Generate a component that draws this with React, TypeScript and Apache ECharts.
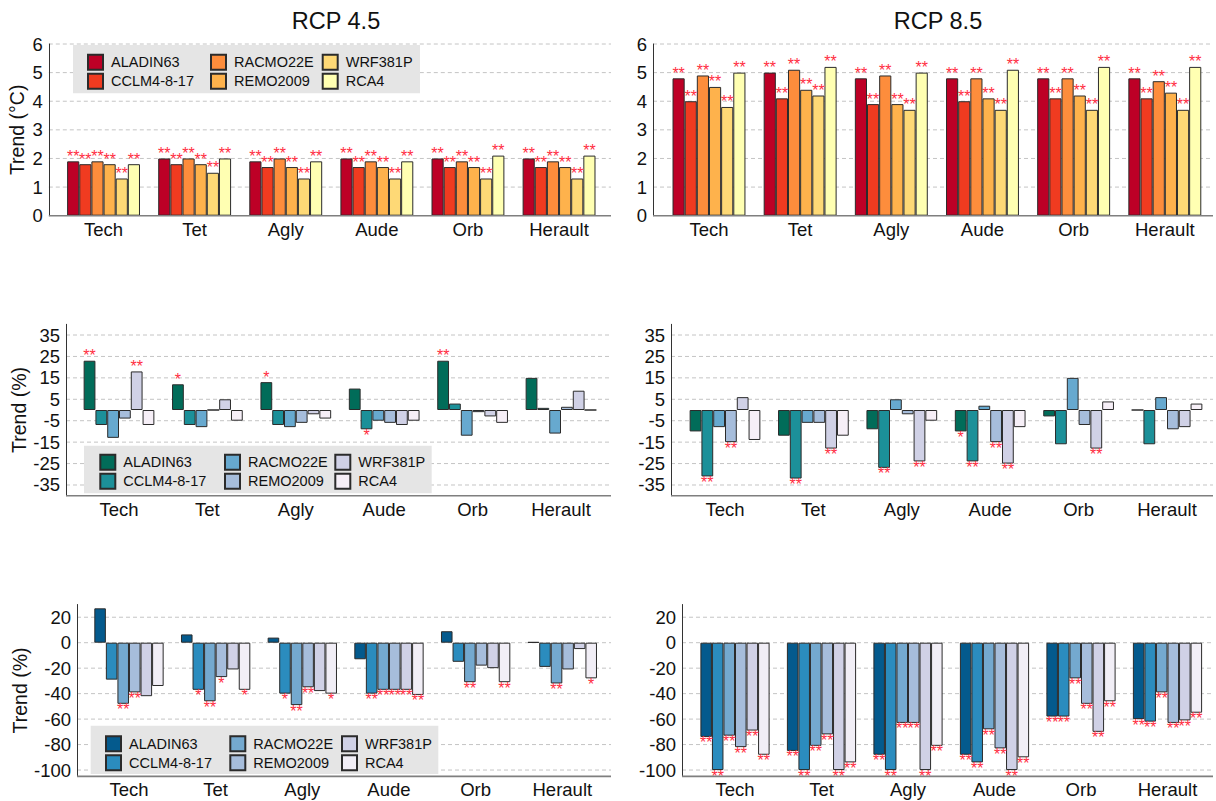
import React, { useEffect, useRef } from "react";
import * as echarts from "echarts";

const CATEGORIES = ["Tech", "Tet", "Agly", "Aude", "Orb", "Herault"];
const MODELS = ["ALADIN63", "CCLM4-8-17", "RACMO22E", "REMO2009", "WRF381P", "RCA4"];
const SCENARIOS = ["RCP 4.5", "RCP 8.5"];

// values are [model][category]
const TEMP_RCP45 = [
  [1.9, 2.0, 1.9, 2.0, 2.0, 2.0],
  [1.8, 1.8, 1.7, 1.7, 1.7, 1.7],
  [1.9, 2.0, 2.0, 1.9, 1.9, 1.9],
  [1.8, 1.8, 1.7, 1.7, 1.7, 1.7],
  [1.3, 1.5, 1.3, 1.3, 1.3, 1.3],
  [1.8, 2.0, 1.9, 1.9, 2.1, 2.1],
];
const TEMP_RCP85 = [
  [4.8, 5.0, 4.8, 4.8, 4.8, 4.8],
  [4.0, 4.1, 3.9, 4.0, 4.1, 4.1],
  [4.9, 5.1, 4.9, 4.8, 4.8, 4.7],
  [4.5, 4.4, 3.9, 4.1, 4.2, 4.3],
  [3.8, 4.2, 3.7, 3.7, 3.7, 3.7],
  [5.0, 5.2, 5.0, 5.1, 5.2, 5.2],
];
const PREC_RCP45 = [
  [23, 12, 13, 10, 23, 15],
  [-7, -7, -7, -9, 3, 1],
  [-13, -8, -8, -5, -12, -11],
  [-4, 0, -6, -6, -1, 1.5],
  [18, 5, -2, -7, -3, 9],
  [-7, -5, -4, -5, -6, 0],
];
const PREC_RCP85 = [
  [-10, -12, -9, -10, -3, 0],
  [-31, -32, -27, -24, -16, -16],
  [-8, -6, 5, 2, 15, 6],
  [-15, -6, -2, -15, -7, -9],
  [6, -18, -24, -25, -18, -8],
  [-14, -12, -5, -8, 4, 3],
];
const FLOW_RCP45 = [
  [27, 6.5, 4, -13, 9, 0.5],
  [-29, -37, -40, -40, -15, -19],
  [-48, -46, -49, -37, -31, -32],
  [-39, -27, -35, -37, -18, -21],
  [-42, -21, -38, -37, -20, -5],
  [-34, -37, -40, -41, -31, -28],
];
const FLOW_RCP85 = [
  [-74, -85, -88, -88, -58, -60],
  [-100, -100, -100, -94, -58, -62],
  [-73, -81, -63, -68, -28, -39],
  [-82, -72, -63, -83, -48, -63],
  [-69, -100, -100, -100, -70, -61],
  [-88, -94, -81, -90, -46, -55],
];

// significance markers [model][category]
const SIG_TEMP_RCP45 = [
  ["**", "**", "**", "**", "**", "**"],
  ["**", "**", "**", "**", "**", "**"],
  ["**", "**", "**", "**", "**", "**"],
  ["**", "**", "**", "**", "**", "**"],
  ["**", "**", "**", "**", "**", "**"],
  ["**", "**", "**", "**", "**", "**"],
];
const SIG_TEMP_RCP85 = [
  ["**", "**", "**", "**", "**", "**"],
  ["**", "**", "**", "**", "**", "**"],
  ["**", "**", "**", "**", "**", "**"],
  ["**", "**", "**", "**", "**", "**"],
  ["**", "**", "**", "**", "**", "**"],
  ["**", "**", "**", "**", "**", "**"],
];
const SIG_PREC_RCP45 = [
  ["**", "*", "*", "", "**", ""],
  ["", "", "", "*", "", ""],
  ["", "", "", "", "", ""],
  ["", "", "", "", "", ""],
  ["**", "", "", "", "", ""],
  ["", "", "", "", "", ""],
];
const SIG_PREC_RCP85 = [
  ["", "", "", "*", "", ""],
  ["**", "**", "**", "**", "", ""],
  ["", "", "", "", "", ""],
  ["**", "", "", "**", "", ""],
  ["", "**", "**", "**", "**", ""],
  ["", "", "", "", "", ""],
];
const SIG_FLOW_RCP45 = [
  ["", "", "", "", "", ""],
  ["", "*", "*", "**", "", ""],
  ["**", "**", "**", "**", "**", "**"],
  ["**", "*", "**", "**", "", ""],
  ["", "", "", "**", "", ""],
  ["", "*", "*", "**", "**", "*"],
];
const SIG_FLOW_RCP85 = [
  ["**", "**", "**", "**", "**", "**"],
  ["**", "**", "**", "**", "**", "**"],
  ["**", "**", "**", "**", "**", "**"],
  ["**", "**", "**", "**", "**", "**"],
  ["**", "**", "**", "**", "**", "**"],
  ["**", "**", "**", "**", "**", "**"],
];

const TICKS_TEMP = [0, 1, 2, 3, 4, 5, 6];
const TICKS_PREC = [-35, -25, -15, -5, 5, 15, 25, 35];
const TICKS_FLOW = [-100, -80, -60, -40, -20, 0, 20];

const YLORRD = ["#BD0026", "#F03B20", "#FD8D3C", "#FEB24C", "#FED976", "#FFFFB2"];
const PUBUGN = ["#016C59", "#1C9099", "#67A9CF", "#A6BDDB", "#D0D1E6", "#F6EFF7"];
const PUBU = ["#045A8D", "#2B8CBE", "#74A9CF", "#A6BDDB", "#D0D1E6", "#F1EEF6"];

const FONT = "'Liberation Sans', Arial, sans-serif";
const STAR = "#FF2E3F";

const ROWS = [
  { top: 44, height: 171.7, min: 0, max: 6, step: 1, ticks: TICKS_TEMP, grid: TICKS_TEMP.filter((t) => t > 0), name: "Trend (°C)", palette: YLORRD, values: [TEMP_RCP45, TEMP_RCP85], sig: [SIG_TEMP_RCP45, SIG_TEMP_RCP85] },
  { top: 324.3, height: 171.4, min: -40, max: 40, step: 5, ticks: TICKS_PREC, grid: TICKS_PREC, name: "Trend (%)", palette: PUBUGN, values: [PREC_RCP45, PREC_RCP85], sig: [SIG_PREC_RCP45, SIG_PREC_RCP85] },
  { top: 604.5, height: 171.9, min: -105, max: 30, step: 5, ticks: TICKS_FLOW, grid: TICKS_FLOW, name: "Trend (%)", palette: PUBU, values: [FLOW_RCP45, FLOW_RCP85], sig: [SIG_FLOW_RCP45, SIG_FLOW_RCP85] },
];
const COLS = [
  [
    { gridLeft: 58, width: 546.6, axisX: 48.8, right: 611 },
    { gridLeft: 663.4, width: 547, axisX: 653, right: 1213 },
  ],
  [
    { gridLeft: 74.8, width: 530.4, axisX: 66, right: 611 },
    { gridLeft: 680.8, width: 530.4, axisX: 671, right: 1213 },
  ],
  [
    { gridLeft: 85.65, width: 520, axisX: 77, right: 611 },
    { gridLeft: 691.75, width: 519, axisX: 682, right: 1213 },
  ],
];
const LEGENDS = [
  { box: [73, 45, 347, 48.3], keys: [87, 210, 321.7], top: 53.8 },
  { box: [84, 445.7, 347.7, 47.6], keys: [99.3, 224, 334.3], top: 453.8 },
  { box: [90.7, 725.7, 347.6, 48.3], keys: [105, 229.3, 341], top: 735.2 },
];
const TITLE_X = [331, 933];

export default function App() {
  const ref = useRef<HTMLDivElement>(null);
  useEffect(() => {
    if (!ref.current) return;
    const chart = echarts.init(ref.current, null, { renderer: "svg" });
    const grids: any[] = [];
    const xAxes: any[] = [];
    const yAxes: any[] = [];
    const series: any[] = [];
    const legends: any[] = [];
    const panels: any[] = [];

    ROWS.forEach((row, r) => {
      [0, 1].forEach((c) => {
        const lay = COLS[r][c];
        const idx = grids.length;
        panels.push({ r, c, idx, lay, row });
        grids.push({ left: lay.gridLeft, top: row.top, width: lay.width, height: row.height, containLabel: false, outerBoundsMode: "none" });
        xAxes.push({
          type: "category",
          gridIndex: idx,
          data: CATEGORIES,
          axisLine: { show: false },
          axisTick: { show: false },
          axisLabel: { fontSize: 18.5, lineHeight: 19, color: "#111", fontFamily: FONT, margin: 4 },
        });
        yAxes.push({
          type: "value",
          gridIndex: idx,
          min: row.min,
          max: row.max,
          interval: row.step,
          offset: lay.gridLeft - lay.axisX,
          name: c === 0 ? row.name : "",
          nameLocation: "middle",
          nameGap: 22,
          nameTextStyle: { fontSize: 19.5, color: "#111", fontFamily: FONT },
          axisLine: { show: true, lineStyle: { color: "#333", width: 1 } },
          axisTick: { show: false },
          splitLine: { show: false },
          axisLabel: {
            fontSize: 18.5,
            color: "#111",
            fontFamily: FONT,
            margin: 6,
            formatter: (v: number) => (row.ticks.indexOf(v) >= 0 ? String(v) : ""),
          },
        });
        MODELS.forEach((m, k) => {
          const vals = row.values[c][k];
          const sig = row.sig[c][k];
          series.push({
            type: "bar",
            name: `${m}|${r}`,
            xAxisIndex: idx,
            yAxisIndex: idx,
            barGap: "0%",
            barCategoryGap: "20%",
            itemStyle: { color: row.palette[k], borderColor: "#2b2b2b", borderWidth: 1 },
            emphasis: { disabled: true },
            label: {
              show: true,
              position: "outside",
              color: STAR,
              fontSize: 16,
              lineHeight: 8,
              fontFamily: FONT,
              formatter: (p: any) => sig[p.dataIndex],
            },
            data: vals.map((v: number) => ({ value: v, label: { distance: v >= 0 ? 1 : 2 } })),
          });
        });
      });
      const lg = LEGENDS[r];
      [0, 1, 2].forEach((col) => {
        legends.push({
          orient: "vertical",
          left: lg.keys[col],
          top: lg.top,
          padding: 0,
          itemWidth: 15,
          itemHeight: 15,
          itemGap: 2,
          icon: "rect",
          selectedMode: false,
          data: [MODELS[col * 2], MODELS[col * 2 + 1]].map((m) => `${m}|${r}`),
          formatter: (name: string) => name.split("|")[0],
          textStyle: { fontSize: 14.5, color: "#111", fontFamily: FONT, lineHeight: 15, padding: [0, 0, 0, 3] },
        });
      });
    });

    chart.setOption({
      animation: false,
      backgroundColor: "#fff",
      title: SCENARIOS.map((s, i) => ({
        text: s,
        left: TITLE_X[i],
        top: 4,
        textAlign: "center",
        textStyle: { fontSize: 23.5, fontWeight: "normal", color: "#111", fontFamily: FONT },
      })),
      grid: grids,
      xAxis: xAxes,
      yAxis: yAxes,
      legend: legends,
      series,
    });

    const graphics: any[] = [];
    LEGENDS.forEach((lg) => {
      graphics.push({
        type: "rect",
        shape: { x: lg.box[0], y: lg.box[1], width: lg.box[2], height: lg.box[3] },
        style: { fill: "#E5E5E5" },
        z: 1,
        silent: true,
      });
    });
    panels.forEach((p) => {
      p.row.grid.forEach((v: number) => {
        const y = chart.convertToPixel({ yAxisIndex: p.idx }, v) as number;
        graphics.push({
          type: "line",
          shape: { x1: p.lay.axisX, y1: y, x2: p.lay.right, y2: y },
          style: { stroke: "#C4C4C4", lineWidth: 1, lineDash: [4, 3] },
          z: 0,
          silent: true,
        });
      });
      const yb = chart.convertToPixel({ yAxisIndex: p.idx }, p.row.min) as number;
      graphics.push({
        type: "line",
        shape: { x1: p.lay.axisX, y1: yb, x2: p.lay.right, y2: yb },
        style: { stroke: "#7F7F7F", lineWidth: 1.6 },
        z: 5,
        silent: true,
      });
    });
    chart.setOption({ graphic: graphics });

    return () => chart.dispose();
  }, []);
  return <div ref={ref} style={{ position: "absolute", left: 0, top: 0, width: 1216, height: 801 }} />;
}
